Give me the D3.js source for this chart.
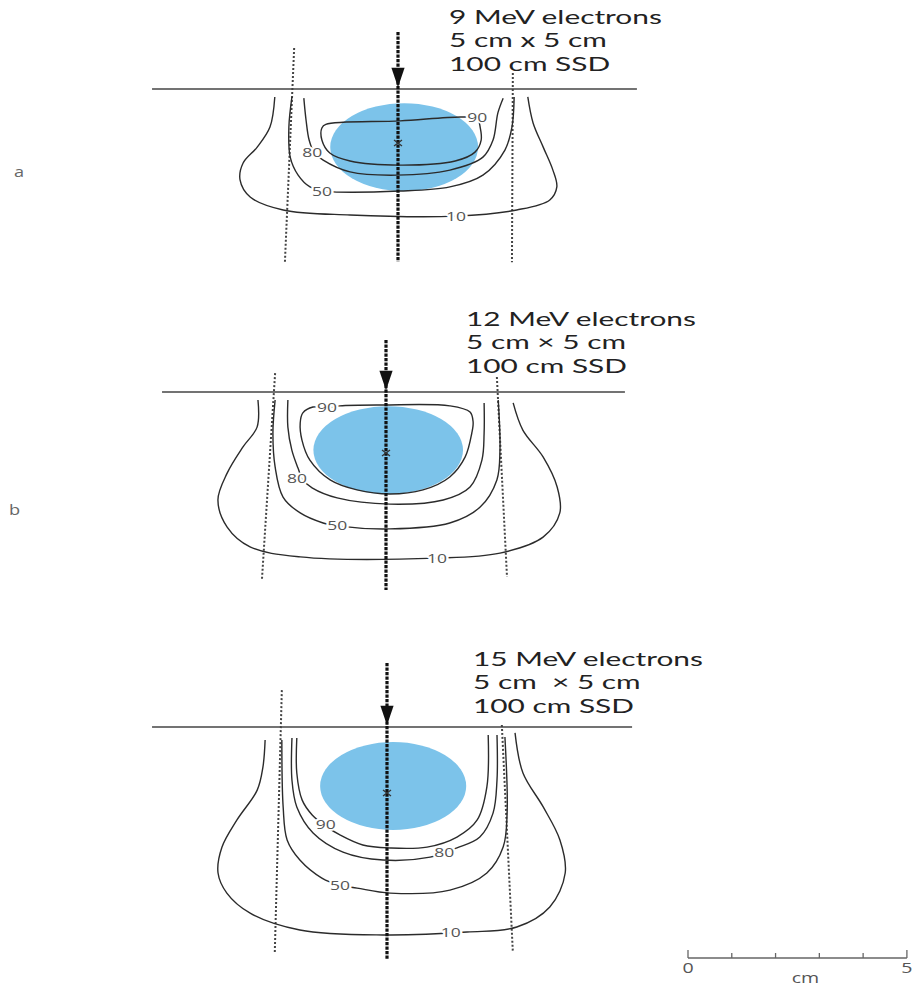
<!DOCTYPE html>
<html><head><meta charset="utf-8">
<script src="https://cdn.jsdelivr.net/npm/d3@7"></script>
<style>body{margin:0;background:#fff}svg{display:block}</style>
</head><body>
<svg id="chart" width="918" height="987"></svg>
<script>
// ---------- DATA (lateral cm, depth cm) ----------
const panelLetters = ["a", "b", ""];
const energyText = ["9 MeV electrons", "12 MeV electrons", "15 MeV electrons"];
const fieldText = ["5 cm x 5 cm", "5 cm \u00d7 5 cm", "5 cm\u00a0 \u00d7 5 cm"];
const ssdText = ["100 cm SSD", "100 cm SSD", "100 cm SSD"];
const isodoseLevels = [90, 80, 50, 10];

const iso9_90 = [[1.80,1.0],[1.87,1.32],[1.89,1.73],[1.75,2.14],[1.30,2.44],[0.05,2.58],[-1.09,2.44],[-1.55,2.17],[-1.73,1.73],[-1.73,1.32],[-1.64,1.20],[0.05,1.08],[1.45,0.95]];
const iso9_80 = [[-2.14,0.31],[-2.09,1.05],[-2.02,1.73],[-1.91,2.14],[-1.70,2.41],[-1.09,2.81],[-0.02,2.92],[1.18,2.75],[1.93,2.31],[2.16,1.73],[2.27,0.81],[2.39,0.31]];
const iso9_50 = [[-2.41,0.27],[-2.48,1.29],[-2.45,2.31],[-2.27,2.92],[-2.00,3.32],[-1.66,3.46],[0.05,3.46],[1.18,3.32],[1.93,2.92],[2.43,2.07],[2.59,1.29],[2.64,0.27]];
const iso9_10 = [[-2.80,0.27],[-2.91,1.29],[-3.20,1.97],[-3.52,2.51],[-3.59,3.08],[-3.36,3.66],[-2.61,4.10],[-1.09,4.27],[1.32,4.31],[2.70,4.10],[3.45,3.76],[3.61,3.32],[3.52,2.75],[3.30,1.97],[3.07,1.15],[2.95,0.27]];

const iso12_90 = [[-1.34,0.54],[-1.05,0.47],[-0.07,0.44],[1.45,0.47],[1.91,0.68],[1.98,1.02],[1.95,1.39],[1.80,2.20],[1.45,2.88],[0.84,3.32],[0.09,3.46],[-0.66,3.32],[-1.27,2.98],[-1.73,2.31],[-1.91,1.63],[-1.95,1.05],[-1.89,0.71],[-1.66,0.51]];
const iso12_80 = [[-2.23,0.27],[-2.23,1.19],[-2.14,1.97],[-2.00,2.58],[-1.89,2.98],[-1.68,3.25],[-1.11,3.59],[0.09,3.80],[1.30,3.66],[1.91,3.22],[2.18,2.31],[2.23,1.39],[2.23,0.37]];
const iso12_50 = [[-2.52,0.27],[-2.57,1.39],[-2.52,2.54],[-2.34,3.56],[-1.95,4.10],[-1.43,4.44],[-1.11,4.54],[0.09,4.64],[1.45,4.44],[2.14,3.90],[2.52,2.98],[2.59,1.97],[2.55,0.27]];
const iso12_10 = [[-2.91,0.27],[-2.93,1.19],[-3.25,1.86],[-3.61,2.75],[-3.82,3.66],[-3.61,4.58],[-3.09,5.25],[-1.95,5.59],[1.16,5.63],[2.59,5.46],[3.57,4.92],[3.95,4.10],[3.89,3.22],[3.57,2.20],[3.11,1.29],[2.89,0.37]];

const iso15_90 = [[-2.05,0.37],[-2.05,1.56],[-1.93,2.47],[-1.70,2.98],[-1.39,3.36],[-1.07,3.66],[-0.55,4.00],[0.07,4.10],[0.91,4.07],[1.59,3.73],[2.05,3.15],[2.27,2.03],[2.30,0.27]];
const iso15_80 = [[-2.16,0.37],[-2.16,1.80],[-2.05,2.71],[-1.68,3.59],[-1.00,4.24],[-0.09,4.51],[0.98,4.41],[1.59,4.10],[2.11,3.73],[2.41,2.92],[2.50,1.80],[2.50,0.27]];
const iso15_50 = [[-2.39,0.44],[-2.36,2.71],[-2.27,3.83],[-1.98,4.51],[-1.48,5.12],[-1.07,5.36],[-0.68,5.46],[0.07,5.63],[1.43,5.53],[2.27,4.95],[2.64,4.07],[2.73,2.92],[2.68,0.34]];
const iso15_10 = [[-2.77,0.44],[-2.82,1.36],[-2.95,2.14],[-3.41,3.15],[-3.75,4.07],[-3.84,4.95],[-3.64,5.63],[-3.11,6.31],[-1.98,6.88],[-0.09,7.05],[1.82,6.95],[2.95,6.78],[3.70,6.10],[4.05,4.95],[3.93,3.83],[3.55,2.71],[3.09,1.56],[2.91,0.20]];

// closed isodose flags per panel [90,80,50,10]
const closedFlags = [[true,false,false,false],[true,false,false,false],[false,false,false,false]];

// label positions [lateral, depth] for 90,80,50,10
const labels9 = [[1.80,0.98],[-1.95,2.14],[-1.73,3.49],[1.32,4.31]];
const labels12 = [[-1.34,0.54],[-2.02,2.92],[-1.11,4.54],[1.16,5.63]];
const labels15 = [[-1.39,3.29],[1.30,4.27],[-1.07,5.36],[1.45,6.98]];

// target volume (circle): [centre lateral, centre depth, half width, half depth]
const targets = [[0.14,1.97,1.68,1.49],[0.05,1.97,1.70,1.49],[0.14,2.00,1.66,1.49]];
// centre marker
const markers = [[0,1.83],[0,2.07],[0,2.24]];
// field edge lines: [[topX,topY],[botX,botY]]
const leftEdges = [[[-2.36,-1.39],[-2.57,5.87]],[[-2.52,-0.64],[-2.82,6.37]],[[-2.39,-1.25],[-2.55,7.63]]];
const rightEdges = [[[2.61,-0.54],[2.59,5.87]],[[2.52,-0.51],[2.75,6.27]],[[2.61,-0.07],[2.86,7.63]]];
// central axis depth extents
const axisExtents = [[-1.93,5.86],[-1.76,6.71],[-2.17,7.9]];
// surface line lateral extents
const surfaceExtents = [[-5.59,5.43],[-5.09,5.43],[-5.34,5.57]];
// scale bar
const scaleBarTicks = [0,1,2,3,4,5];
const scaleBarLabels = ["0","","","","","5"];

// ---------- LAYOUT ----------
const kx = 44, ky = 29.5;
const origins = [{cx:398, sy:89}, {cx:386, sy:392}, {cx:387, sy:727}];
const textPos = [{x:449, y:24, w:213}, {x:466, y:326, w:230}, {x:473, y:666, w:230}];
const letterPos = [{x:14, y:177}, {x:9, y:515}, {x:0, y:0}];

const isoSets = [[iso9_90,iso9_80,iso9_50,iso9_10],[iso12_90,iso12_80,iso12_50,iso12_10],[iso15_90,iso15_80,iso15_50,iso15_10]];
const labelSets = [labels9, labels12, labels15];

const svg = d3.select("#chart");
const lineCol = "#2b2b2b";
const txtFont = "Lato, 'Open Sans', sans-serif";

origins.forEach((o, i) => {
  const x = d3.scaleLinear().domain([0, 1]).range([o.cx, o.cx + kx]);
  const y = d3.scaleLinear().domain([0, 1]).range([o.sy, o.sy + ky]);
  const g = svg.append("g");

  // target circle
  const t = targets[i];
  g.append("ellipse")
    .attr("cx", x(t[0])).attr("cy", y(t[1]))
    .attr("rx", x(t[2]) - x(0)).attr("ry", y(t[3]) - y(0))
    .attr("fill", "#7cc3ea");

  // surface
  g.append("line")
    .attr("x1", x(surfaceExtents[i][0])).attr("x2", x(surfaceExtents[i][1]))
    .attr("y1", y(0)).attr("y2", y(0))
    .attr("stroke", "#444").attr("stroke-width", 1.3);

  // field edges
  [leftEdges[i], rightEdges[i]].forEach(e => {
    g.append("line")
      .attr("x1", x(e[0][0])).attr("y1", y(e[0][1]))
      .attr("x2", x(e[1][0])).attr("y2", y(e[1][1]))
      .attr("stroke", "#444").attr("stroke-width", 2)
      .attr("stroke-dasharray", "2,2");
  });

  // isodose curves
  isoSets[i].forEach((pts, k) => {
    const closed = closedFlags[i][k];
    const gen = d3.line().x(d => x(d[0])).y(d => y(d[1]))
      .curve(closed ? d3.curveCatmullRomClosed.alpha(0.5) : d3.curveCatmullRom.alpha(0.5));
    g.append("path").attr("d", gen(pts))
      .attr("fill", "none").attr("stroke", lineCol).attr("stroke-width", 1.4);
  });

  // central axis
  g.append("line")
    .attr("x1", x(0)).attr("x2", x(0))
    .attr("y1", y(axisExtents[i][0])).attr("y2", y(axisExtents[i][1]))
    .attr("stroke", "#111").attr("stroke-width", 3.2)
    .attr("stroke-dasharray", "3.2,1.3");
  // arrow head
  const ah = d3.path();
  ah.moveTo(x(-0.15), y(-0.72));
  ah.lineTo(x(0.15), y(-0.72));
  ah.lineTo(x(0), y(-0.06));
  ah.closePath();
  g.append("path").attr("d", ah.toString()).attr("fill", "#111");

  // centre marker x
  const m = markers[i];
  const mx = x(m[0]), my = y(m[1]);
  g.append("path")
    .attr("d", `M${mx-4},${my-3}L${mx+4},${my+3}M${mx-4},${my+3}L${mx+4},${my-3}`)
    .attr("stroke", "#333").attr("stroke-width", 1.3);

  // isodose labels
  labelSets[i].forEach((p, k) => {
    g.append("g")
      .attr("transform", `translate(${x(p[0])},${y(p[1])}) scale(1.4,1)`)
      .append("text")
      .attr("text-anchor", "middle").attr("dy", "0.36em")
      .attr("font-family", "Open Sans, sans-serif").attr("font-size", 12.5)
      .attr("fill", "#555")
      .attr("stroke", "#fff").attr("stroke-width", 3.5).attr("paint-order", "stroke")
      .text(isodoseLevels[k]);
  });

  // description text (horizontally stretched like the reference)
  const tp = textPos[i];
  const lines = [energyText[i], fieldText[i], ssdText[i]];
  const tg = g.append("g");
  const texts = lines.map((s, j) => tg.append("text")
      .attr("font-family", txtFont).attr("font-size", 19.5)
      .attr("fill", "#222")
      .style("white-space", "pre")
      .text(s));
  const natural = texts[0].node().getComputedTextLength();
  const sx = tp.w / natural;
  texts.forEach((tt, j) => tt.attr("transform", `translate(${tp.x},${tp.y + j * 23.4}) scale(${sx},1)`));

  // panel letter
  if (panelLetters[i]) {
    svg.append("g")
      .attr("transform", `translate(${letterPos[i].x},${letterPos[i].y}) scale(1.3,1)`)
      .append("text")
      .attr("font-family", "Open Sans, sans-serif").attr("font-size", 14)
      .attr("fill", "#666").text(panelLetters[i]);
  }
});

// scale bar (cm)
const sb = d3.scaleLinear().domain([0, 5]).range([688, 688 + 5 * kx * 0.995]);
const sbY = 958;
const sg = svg.append("g");
sg.append("line").attr("x1", sb(0)).attr("x2", sb(5)).attr("y1", sbY).attr("y2", sbY)
  .attr("stroke", "#666").attr("stroke-width", 1.3);
sg.selectAll("line.tick").data(scaleBarTicks).join("line").attr("class", "tick")
  .attr("x1", d => sb(d)).attr("x2", d => sb(d))
  .attr("y1", sbY).attr("y2", (d, i) => (i === 0 || i === scaleBarTicks.length - 1) ? sbY - 8 : sbY - 5)
  .attr("stroke", "#666").attr("stroke-width", 1.3);
scaleBarTicks.forEach((d, i) => {
  if (!scaleBarLabels[i]) return;
  sg.append("g").attr("transform", `translate(${sb(d)},${sbY + 15}) scale(1.4,1)`)
    .append("text").attr("text-anchor", "middle")
    .attr("font-family", "Open Sans, sans-serif").attr("font-size", 14).attr("fill", "#555")
    .text(scaleBarLabels[i]);
});
sg.append("g").attr("transform", `translate(${sb(2.5) + 8},${sbY + 25}) scale(1.4,1)`)
  .append("text").attr("text-anchor", "middle")
  .attr("font-family", "Open Sans, sans-serif").attr("font-size", 14).attr("fill", "#555")
  .text("cm");
</script>
</body></html>
